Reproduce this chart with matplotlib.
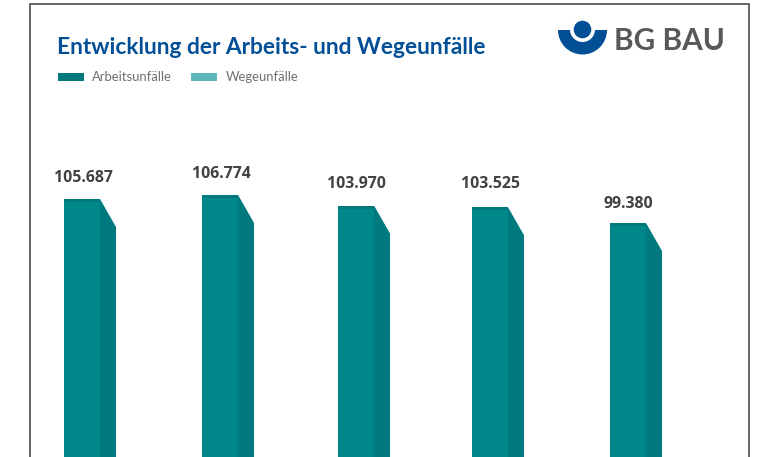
import matplotlib
matplotlib.use("Agg")
import matplotlib.pyplot as plt
from matplotlib.patches import Polygon, Rectangle, Circle, Wedge

title = "Entwicklung der Arbeits- und Wegeunfälle"
legend_labels = ["Arbeitsunfälle", "Wegeunfälle"]
value_labels = ["105.687", "106.774", "103.970", "103.525", "99.380"]
arbeitsunfaelle = [105687, 106774, 103970, 103525, 99380]

bar_left_px = [64, 202, 338, 472, 610]
label_center_px = [83, 221, 356, 491, 628]
label_y_px = [178.5, 174.5, 183.5, 184.5, 203.5]

W, H = 780, 457
FACE, SIDE, TOPC = "#00878a", "#007a7e", "#00797c"
px_per_unit = 0.0038
y_top = 105687 + 199 / px_per_unit
y_bot = 105687 - (H - 199) / px_per_unit

fig = plt.figure(figsize=(W / 100, H / 100), dpi=100, facecolor="white")
ax = fig.add_axes([0, 0, 1, 1])
ax.set_xlim(0, W)
ax.set_ylim(y_bot, y_top)
ax.axis("off")

ov = fig.add_axes([0, 0, 1, 1], zorder=3)
ov.set_xlim(0, W)
ov.set_ylim(H, 0)
ov.axis("off")
ov.patch.set_alpha(0)

bw, sw = 36, 16
drop = 28 / px_per_unit
for x0, v in zip(bar_left_px, arbeitsunfaelle):
    ax.bar(x0, v - y_bot, width=bw, bottom=y_bot, align="edge", color=FACE, lw=0)
    ax.add_patch(Polygon([(x0 + bw, v), (x0 + bw + sw, v - drop),
                          (x0 + bw + sw, y_bot), (x0 + bw, y_bot)],
                         closed=True, fc=SIDE, lw=0))
    ax.bar(x0, 3 / px_per_unit, width=bw, bottom=v - 3 / px_per_unit,
           align="edge", color=TOPC, lw=0)

for xc, yp, s in zip(label_center_px, label_y_px, value_labels):
    ov.text(xc, yp, s, ha="center", va="center", fontsize=11.4,
            fontweight="bold", family="Open Sans", color="#3f4144")

ov.plot([30, 30, 749, 749], [H, 3.5, 3.5, H], color="#58595b", lw=1.3,
        solid_joinstyle="miter")

ov.text(57, 47.5, title, ha="left", va="center", fontsize=16.4, fontweight="bold",
        family="Lato", color="#034f96")

for x0, c, tx, s in zip([58, 191], ["#00797c", "#5bb8bc"], [92, 226], legend_labels):
    ov.add_patch(Rectangle((x0, 72.5), 26, 8, fc=c, lw=0))
    ov.text(tx, 77, s, ha="left", va="center", fontsize=9.4,
            family="Lato", color="#6d6e71")

BLUE = "#034f96"
ov.add_patch(Wedge((582.5, 30), 24.5, 0, 180, fc=BLUE, lw=0))
ov.add_patch(Circle((582.5, 29.5), 12.5, fc="white", lw=0))
ov.add_patch(Circle((582.5, 29.5), 8.8, fc=BLUE, lw=0))
ov.text(614.5, 41.5, "BG BAU", ha="left", va="center", fontsize=21.4,
        fontweight="bold", family="Lato", color="#58595b")

fig.savefig("out.png", dpi=100, facecolor="white")
